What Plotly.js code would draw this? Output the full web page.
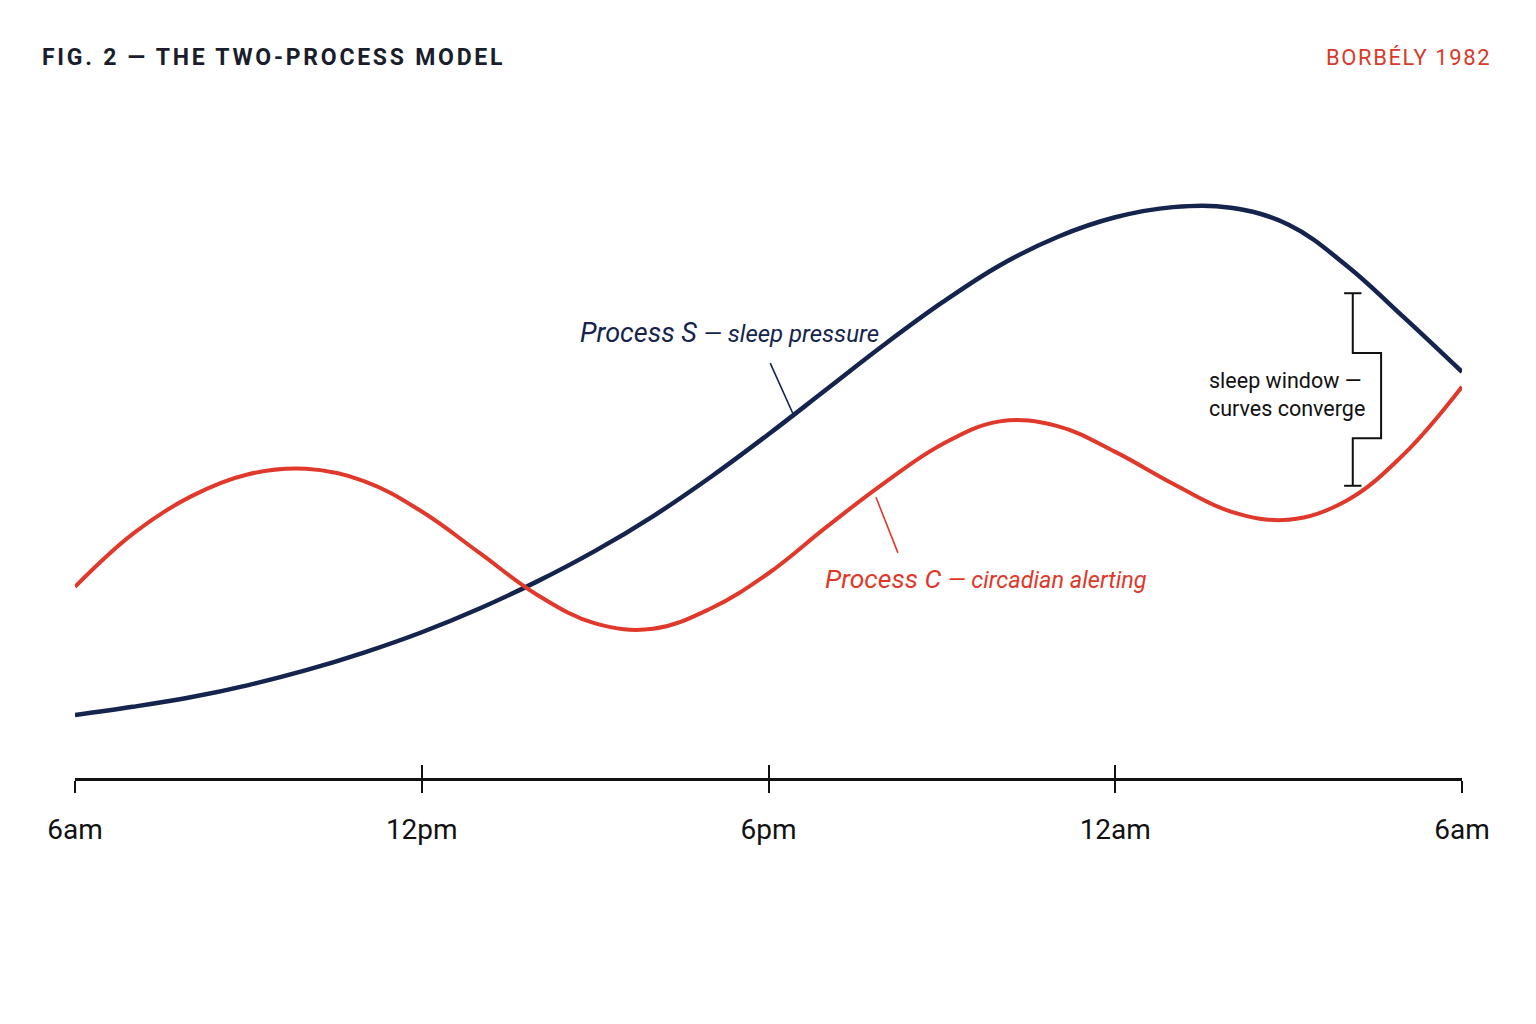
<!DOCTYPE html>
<html>
<head>
<meta charset="utf-8">
<script src="https://cdn.plot.ly/plotly-3.0.1.min.js"></script>
<style>
  html, body { margin: 0; padding: 0; background: #ffffff; }
  #chart { width: 1536px; height: 1024px; }
</style>
</head>
<body>
<div id="chart"></div>
<script>
// Hours since 6am
const hours = [0,1,2,3,4,5,6,7,8,9,10,11,12,13,14,15,16,17,18,19,20,21,22,23,24];
// Process S — sleep pressure (relative level 0–100)
const processS = [9.3,10.5,11.9,13.7,15.9,18.5,21.5,25.0,29.0,33.5,38.6,44.4,50.7,57.3,63.9,70.1,75.6,79.8,82.7,84.2,84.1,81.6,75.6,67.9,59.9];
// Process C — circadian alerting (relative level 0–100)
const processC = [28.2,36.0,41.5,44.8,45.6,43.8,39.3,33.2,27.0,22.8,22.0,25.0,30.2,37.0,43.5,49.2,52.6,51.9,48.1,43.4,39.3,38.1,40.9,47.8,57.7];
// Axis ticks
const tickHours = [0, 6, 12, 18, 24];
const tickLabels = ["6am", "12pm", "6pm", "12am", "6am"];
// Sleep window bracket (hours, levels)
const bracketX = [22.11, 22.60];
const bracketY = [71.5, 62.7, 50.1, 43.1];

const NAVY = "#15244d";
const RED = "#e0382a";
const INK = "#111111";

const traces = [
  {x: hours, y: processS, mode: "lines", line: {color: NAVY, width: 4.5, shape: "spline", smoothing: 1.1}, hoverinfo: "skip"},
  {x: hours, y: processC, mode: "lines", line: {color: RED, width: 4, shape: "spline", smoothing: 1.1}, hoverinfo: "skip"},
  // invisible trace anchoring the second x axis (inside tick marks)
  {x: [0, 24], y: [0, 0], xaxis: "x2", mode: "lines", line: {width: 0}, hoverinfo: "skip", showlegend: false}
];

const bx0 = bracketX[0], bx1 = bracketX[1];
const [by0, by1, by2, by3] = bracketY;
const capHalf = 0.15;

const shapes = [
  {type: "path", xref: "x", yref: "y",
   path: `M ${bx0} ${by0} L ${bx0} ${by1} L ${bx1} ${by1} L ${bx1} ${by2} L ${bx0} ${by2} L ${bx0} ${by3}`,
   line: {color: INK, width: 2}},
  {type: "line", xref: "x", yref: "y", x0: bx0 - capHalf, x1: bx0 + capHalf, y0: by0, y1: by0, line: {color: INK, width: 2}},
  {type: "line", xref: "x", yref: "y", x0: bx0 - capHalf, x1: bx0 + capHalf, y0: by3, y1: by3, line: {color: INK, width: 2}},
  // leader lines
  {type: "line", xref: "x", yref: "y", x0: 12.03, y0: 61.2, x1: 12.42, y1: 53.8, line: {color: NAVY, width: 1.6}},
  {type: "line", xref: "x", yref: "y", x0: 13.86, y0: 41.4, x1: 14.24, y1: 33.2, line: {color: RED, width: 1.6}}
];

const annotations = [
  {xref: "paper", yref: "paper", x: 1.0224, y: 1.0634, xanchor: "right", yanchor: "middle", showarrow: false,
   text: '<span style="letter-spacing:1.6px">BORBÉLY 1982</span>',
   font: {family: "Roboto, 'Noto Sans', sans-serif", size: 22, color: "#d93a2a"}},
  {xref: "x", yref: "y", x: 11.33, y: 65.6, xanchor: "center", yanchor: "middle", showarrow: false,
   text: 'Process S <span style="font-size:24px">— sleep pressure</span>',
   font: {family: "Roboto, sans-serif", size: 27, color: NAVY, style: "italic"}},
  {xref: "x", yref: "y", x: 15.76, y: 29.4, xanchor: "center", yanchor: "middle", showarrow: false,
   text: 'Process C <span style="font-size:23.5px">— circadian alerting</span>',
   font: {family: "Roboto, sans-serif", size: 26.5, color: RED, style: "italic"}},
  {xref: "x", yref: "y", x: 19.58, y: 56.5, xanchor: "left", yanchor: "middle", showarrow: false, align: "left",
   text: "sleep window —<br>curves converge",
   font: {family: "Roboto, sans-serif", size: 21.5, color: INK}}
];

const layout = {
  width: 1536, height: 1024,
  margin: {l: 75, r: 74, t: 100, b: 246, pad: 0},
  paper_bgcolor: "#ffffff", plot_bgcolor: "#ffffff",
  showlegend: false, hovermode: false,
  title: {
    text: '<span style="letter-spacing:2.75px">FIG. 2 — THE TWO-PROCESS MODEL</span>',
    x: 42/1536, xref: "container", xanchor: "left", y: 1 - 57/1024, yref: "container", yanchor: "middle",
    font: {family: "Roboto, sans-serif", size: 23, color: "#1a1d2b", weight: 700}
  },
  xaxis: {
    range: [0, 24], tickvals: tickHours, ticktext: tickLabels,
    showgrid: false, zeroline: false, showline: true, linecolor: INK, linewidth: 2.5,
    ticks: "outside", ticklen: 12, tickwidth: 2, tickcolor: INK,
    tickfont: {family: "Roboto, sans-serif", size: 28, color: INK},
    ticklabelstandoff: 13
  },
  xaxis2: {
    range: [0, 24], overlaying: "x", side: "bottom", anchor: "y", tickvals: tickHours,
    showticklabels: false, showgrid: false, zeroline: false, showline: false,
    ticks: "inside", ticklen: 13, tickwidth: 2, tickcolor: INK
  },
  yaxis: {range: [0, 100], visible: false, showgrid: false, zeroline: false},
  shapes: shapes,
  annotations: annotations
};

Plotly.newPlot("chart", traces, layout, {staticPlot: true, displayModeBar: false});
</script>
</body>
</html>
